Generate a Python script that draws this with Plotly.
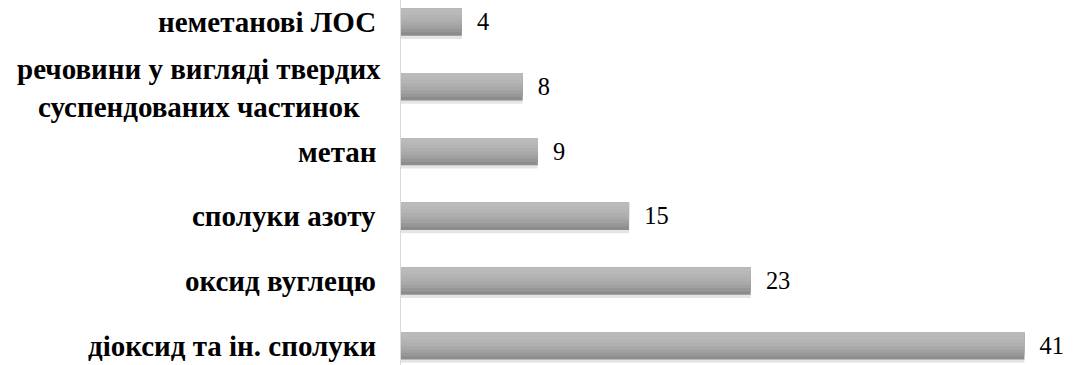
import plotly.graph_objects as go

categories = [
    "діоксид та ін. сполуки",
    "оксид вуглецю",
    "сполуки азоту",
    "метан",
    "речовини у вигляді твердих<br>суспендованих частинок",
    "неметанові ЛОС",
]
values = [41, 23, 15, 9, 8, 4]

FONT = "Liberation Serif"
BAR_W = 0.42
# gradient layers from bottom (dark) to top (light)
layer_colors = ["#8c8c8c", "#979797", "#a1a1a1", "#a9a9a9", "#afafaf", "#b4b4b4", "#b8b8b8", "#bbbbbb"]

fig = go.Figure()
ys = list(range(len(categories)))

# soft shadow
fig.add_trace(go.Bar(
    y=ys, x=values, orientation="h",
    width=BAR_W, offset=-BAR_W / 2 - 0.05,
    marker=dict(color="rgba(0,0,0,0.10)", line=dict(width=0)),
    hoverinfo="skip", showlegend=False,
))

n = len(layer_colors)
for i, c in enumerate(layer_colors):
    h = BAR_W * (n - i) / n
    fig.add_trace(go.Bar(
        y=ys, x=values, orientation="h",
        width=h, offset=BAR_W / 2 - h,
        marker=dict(color=c, line=dict(width=0)),
        hoverinfo="skip", showlegend=False,
    ))

# value labels
fig.add_trace(go.Bar(
    y=ys, x=values, orientation="h",
    width=BAR_W, offset=-BAR_W / 2,
    marker=dict(color="rgba(0,0,0,0)", line=dict(width=0)),
    text=[f"{v}" for v in values], texttemplate="  %{text}",
    textposition="outside", cliponaxis=False,
    textfont=dict(family=FONT, size=26, color="#000000"),
    showlegend=False,
))

# category labels (multi-line ones centred, as in the original)
catfont = dict(family=FONT, size=29, color="#000000", weight="bold")
for y, label in zip(ys, categories):
    if "<br>" not in label:
        fig.add_annotation(x=0, xref="x", y=y, yref="y", text=label, showarrow=False,
                           xanchor="right", yanchor="middle", xshift=-23, font=catfont)
    else:
        fig.add_annotation(x=0, xref="x", y=y, yref="y", text=label, showarrow=False,
                           xanchor="center", yanchor="middle", align="center",
                           xshift=-202, yshift=-1, font=catfont)

fig.update_layout(
    width=1073, height=365,
    margin=dict(l=401, r=0, t=0, b=0),
    paper_bgcolor="white", plot_bgcolor="white",
    barmode="overlay",
    xaxis=dict(range=[0, 44.2], visible=False, fixedrange=True),
    yaxis=dict(
        range=[-0.293, 5.34], showticklabels=False,
        showgrid=False, zeroline=False, showline=True, linecolor="#d9d9d9", linewidth=1,
        ticks="", fixedrange=True,
    ),
)

fig.write_html("out.html")
